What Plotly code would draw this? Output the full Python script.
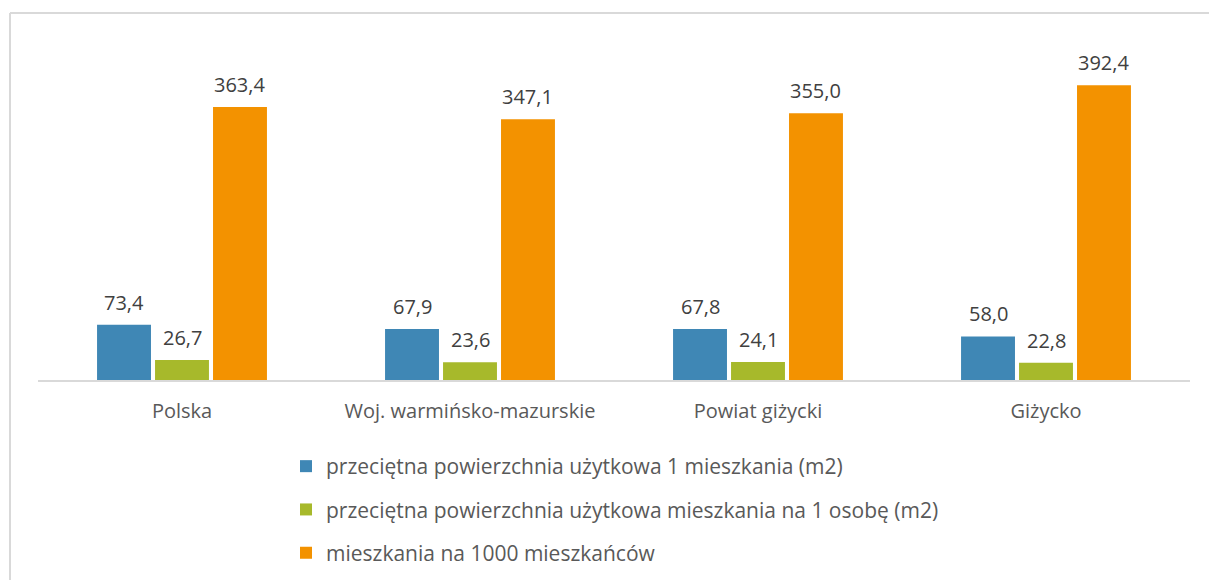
import plotly.graph_objects as go

categories = ["Polska", "Woj. warmińsko-mazurskie", "Powiat giżycki", "Giżycko"]
series_names = [
    "przeciętna powierzchnia użytkowa 1 mieszkania (m2)",
    "przeciętna powierzchnia użytkowa mieszkania na 1 osobę (m2)",
    "mieszkania na 1000 mieszkańców",
]
avg_area = [73.4, 67.9, 67.8, 58.0]
area_per_person = [26.7, 23.6, 24.1, 22.8]
flats_per_1000 = [363.4, 347.1, 355.0, 392.4]
colors = ["#3F87B5", "#A7B92B", "#F39200"]

series_values = [avg_area, area_per_person, flats_per_1000]

W, H = 1209, 580
ML, MR, MT, MB = 38, 19, 42, 200
plot_w = W - ML - MR
plot_h = H - MT - MB
BARGAP = 0.396
BARGROUPGAP = 0.07

fig = go.Figure()
for i, (name, vals, col) in enumerate(zip(series_names, series_values, colors)):
    fig.add_trace(go.Bar(
        x=categories, y=vals, name=name, marker_color=col,
        marker_line_width=0, legendgroup=f"g{i}",
    ))

def fmt(v):
    return f"{v:.1f}".replace(".", ",")

cat_w = plot_w / len(categories)
slot = cat_w * (1 - BARGAP) / 3
annotations = []
for i, vals in enumerate(series_values):
    for c, v in zip(categories, vals):
        annotations.append(dict(
            x=c, y=v, xref="x", yref="y", text=fmt(v), showarrow=False,
            xshift=(i - 1) * slot, yanchor="bottom", yshift=7,
            font=dict(family="Open Sans", size=20, color="#404040"),
        ))

def px_x(p):
    return (p - ML) / plot_w

def px_y(p):
    return (H - MB - p) / plot_h

shapes = [
    dict(type="line", xref="paper", yref="paper", x0=px_x(10), x1=px_x(1240),
         y0=px_y(13), y1=px_y(13), line=dict(color="#D9D9D9", width=2)),
    dict(type="line", xref="paper", yref="paper", x0=px_x(10), x1=px_x(10),
         y0=px_y(13), y1=px_y(600), line=dict(color="#D9D9D9", width=2)),
]

fig.update_layout(
    width=W, height=H,
    margin=dict(l=ML, r=MR, t=MT, b=MB, autoexpand=False),
    paper_bgcolor="white", plot_bgcolor="white",
    barmode="group", bargap=BARGAP, bargroupgap=BARGROUPGAP,
    font=dict(family="Open Sans", color="#595959"),
    xaxis=dict(showline=True, linecolor="#D9D9D9", linewidth=1.5,
               tickfont=dict(size=20, color="#595959"), ticks="",
               ticklabelstandoff=12, showgrid=False),
    yaxis=dict(range=[0, 450], visible=False, showgrid=False),
    showlegend=True,
    legend=dict(orientation="v", x=px_x(286), xanchor="left",
                y=px_y(446), yanchor="top", traceorder="grouped",
                tracegroupgap=13, font=dict(size=21, color="#595959"),
                itemclick=False),
    annotations=annotations,
    shapes=shapes,
)

fig.write_html("out.html", config={"displayModeBar": False},
               post_script="document.body.style.margin='0';document.body.style.overflow='hidden';")
